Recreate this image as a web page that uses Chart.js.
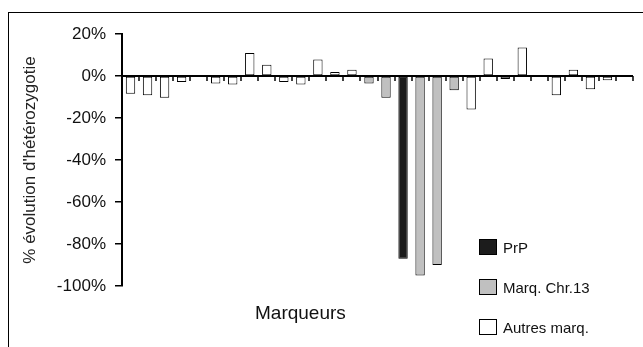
<!DOCTYPE html>
<html>
<head>
<meta charset="utf-8">
<script src="https://cdn.jsdelivr.net/npm/chart.js@4.4.1/dist/chart.umd.min.js"></script>
<style>
  html, body { margin: 0; padding: 0; background: #fff; overflow: hidden; }
  #wrap { position: relative; width: 643px; height: 347px; }
  #frame { position: absolute; left: 8px; top: 12px; width: 700px; height: 400px; border: 1px solid #000; box-sizing: border-box; }
  #chart { position: absolute; left: 0; top: 0; }
  #xtitle { position: absolute; left: 255px; top: 302px; font: 19px 'Liberation Sans', Arial, sans-serif; color: #111; }
  #legend { position: absolute; left: 479px; top: 227px; font: 15px 'Liberation Sans', Arial, sans-serif; color: #111; }
  .row { display: flex; align-items: center; height: 40px; }
  .box { width: 18px; height: 16px; border: 1px solid #000; box-sizing: border-box; margin-right: 6px; }
</style>
</head>
<body>
<div id="wrap">
  <div id="frame"></div>
  <canvas id="chart" width="643" height="347"></canvas>
  <div id="xtitle">Marqueurs</div>
  <div id="legend"></div>
</div>
<script>
// one entry per marker along the x axis
const marqueurs = ['1','2','3','4','5','6','7','8','9','10','11','12','13','14','15',
                   '16','17','18','19','20','21','22','23','24','25','26','27','28','29','30'];

// % evolution, split by marker type (null = not in that group)
const prpValues = [null,null,null,null,null,null,null,null,null,null,null,null,null,null,null,
                   null,-87,null,null,null,null,null,null,null,null,null,null,null,null,null];
const chr13Values = [null,null,null,null,null,null,null,null,null,null,null,null,null,null,-3.6,
                     -10.3,null,-95,-90,-6.8,null,null,null,null,null,null,null,null,null,null];
const autresValues = [-8.4,-9.2,-10.3,-2.8,null,-3.6,-4.1,11,5.4,-2.8,-4.1,7.8,1.9,3,null,
                      null,null,null,null,null,-15.9,8.3,-1.4,13.6,null,-9.2,3,-6.3,-2,null];

const yTicks = [20, 0, -20, -40, -60, -80, -100];

// zero line with category ticks (the x axis sits at 0%)
const zeroAxis = {
    id: 'zeroAxis',
    afterDatasetsDraw(chart) {
        const x = chart.scales.x, y = chart.scales.y;
        const ctx = chart.ctx;
        const y0 = Math.round(y.getPixelForValue(0));
        ctx.save();
        ctx.strokeStyle = '#000';
        ctx.lineWidth = 2;
        ctx.beginPath();
        ctx.moveTo(chart.chartArea.left, y0);
        ctx.lineTo(chart.chartArea.right, y0);
        ctx.stroke();
        ctx.lineWidth = 1.5;
        for (let i = 0; i <= marqueurs.length; i++) {
            const px = Math.round(x.getPixelForValue(i - 0.5));
            ctx.beginPath();
            ctx.moveTo(px, y0);
            ctx.lineTo(px, y0 + 5);
            ctx.stroke();
        }
        ctx.restore();
    }
};

const chart = new Chart(document.getElementById('chart'), {
    type: 'bar',
    data: {
        labels: marqueurs,
        datasets: [
            { label: 'PrP', data: prpValues, backgroundColor: '#1c1c1c' },
            { label: 'Marq. Chr.13', data: chr13Values, backgroundColor: '#c0c0c0' },
            { label: 'Autres marq.', data: autresValues, backgroundColor: '#ffffff' }
        ]
    },
    options: {
        responsive: false,
        animation: false,
        layout: { padding: { left: 16, top: 34, right: 10, bottom: 61 } },
        datasets: {
            bar: { grouped: false, categoryPercentage: 1, barPercentage: 0.55, borderColor: '#000', borderWidth: 1, borderSkipped: false }
        },
        plugins: { legend: { display: false }, tooltip: { enabled: false } },
        scales: {
            x: { display: false },
            y: {
                min: -100, max: 20,
                afterFit(scale) { scale.width = 106; },
                afterBuildTicks(scale) { scale.ticks = yTicks.map(v => ({ value: v })); },
                border: { display: true, color: '#000', width: 2 },
                grid: { display: true, drawOnChartArea: false, drawTicks: true, tickLength: 7, color: '#000', lineWidth: 1.5 },
                ticks: { padding: 9, color: '#111', font: { family: "'Liberation Sans', Arial, sans-serif", size: 17 }, callback: v => v + '%' },
                title: { display: true, text: "% évolution d'hétérozygotie", color: '#222', padding: { top: 4, bottom: 0 },
                         font: { family: "'Liberation Sans', Arial, sans-serif", size: 17 } }
            }
        }
    },
    plugins: [zeroAxis]
});

// legend built from the datasets, stacked vertically
const legend = document.getElementById('legend');
chart.data.datasets.forEach(ds => {
    const row = document.createElement('div');
    row.className = 'row';
    const box = document.createElement('div');
    box.className = 'box';
    box.style.background = ds.backgroundColor;
    const txt = document.createElement('span');
    txt.textContent = ds.label;
    row.appendChild(box);
    row.appendChild(txt);
    legend.appendChild(row);
});
</script>
</body>
</html>
